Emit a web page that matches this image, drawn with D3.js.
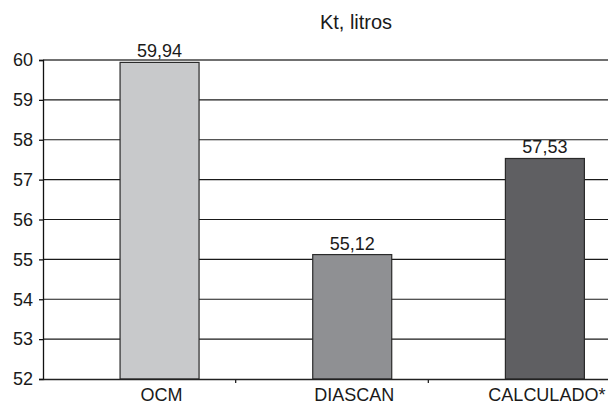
<!DOCTYPE html>
<html>
<head>
<meta charset="utf-8">
<script src="https://cdn.jsdelivr.net/npm/d3@7/dist/d3.min.js"></script>
<style>
  html, body { margin: 0; padding: 0; background: #fff; }
  svg { display: block; font-family: "Liberation Sans", Arial, sans-serif; }
</style>
</head>
<body>
<svg id="chart" width="608" height="405"></svg>
<script>
const title = "Kt, litros";
const categories = ["OCM", "DIASCAN", "CALCULADO*"];
const values = [59.94, 55.12, 57.53];
const valueLabels = ["59,94", "55,12", "57,53"];
const colors = ["#c8c9cb", "#8f9093", "#5f5f62"];
const yTicks = [52, 53, 54, 55, 56, 57, 58, 59, 60];

(function () {
const svg = d3.select("#chart");
const mLeft = 43, mRight = 621, mTop = 60, mBottom = 379;

const y = d3.scaleLinear().domain([52, 60]).range([mBottom, mTop]);
const x = d3.scaleBand().domain(categories).range([mLeft, mRight]);

// gridlines
svg.append("g").selectAll("line").data(yTicks.filter(d => d > 52)).join("line")
  .attr("x1", mLeft).attr("x2", 608)
  .attr("y1", d => y(d)).attr("y2", d => y(d))
  .attr("stroke", d => d === 60 ? "#707070" : "#1a1a1a")
  .attr("stroke-width", d => d === 60 ? 2 : 1.2);

// bars
const barOffset = x.step() * 0.40, barW = x.step() * 0.41;
svg.append("g").selectAll("rect").data(categories).join("rect")
  .attr("x", d => x(d) + barOffset)
  .attr("width", barW)
  .attr("y", (d, i) => y(values[i]))
  .attr("height", (d, i) => y(52) - y(values[i]))
  .attr("fill", (d, i) => colors[i])
  .attr("stroke", "#2a2a2a").attr("stroke-width", 1.2);

// value labels
svg.append("g").selectAll("text").data(categories).join("text")
  .attr("x", d => x(d) + barOffset + barW / 2)
  .attr("y", (d, i) => y(values[i]) - 5)
  .attr("text-anchor", "middle")
  .attr("font-size", 18).attr("fill", "#1a1a1a")
  .text((d, i) => valueLabels[i]);

// y axis
const yAxis = d3.axisLeft(y).tickValues(yTicks).tickSize(4).tickPadding(6).tickFormat(d3.format("d"));
const gy = svg.append("g").attr("transform", `translate(${mLeft},0)`).call(yAxis);
gy.select(".domain").attr("stroke", "#111").attr("stroke-width", 1.3);
gy.selectAll(".tick line").attr("stroke", "#111").attr("stroke-width", 1.3);
gy.selectAll(".tick text").attr("font-size", 18).attr("fill", "#1a1a1a")
  .attr("font-family", "Liberation Sans, Arial, sans-serif");

// x axis
const xAxis = d3.axisBottom(x).tickSize(0).tickFormat("");
const gx = svg.append("g").attr("transform", `translate(0,${mBottom})`).call(xAxis);
gx.select(".domain").attr("stroke", "#222").attr("stroke-width", 1.6);
gx.selectAll(".tick").remove();
// category boundary ticks
svg.append("g").selectAll("line").data(categories.slice(1)).join("line")
  .attr("x1", d => x(d)).attr("x2", d => x(d))
  .attr("y1", mBottom).attr("y2", mBottom + 4)
  .attr("stroke", "#222").attr("stroke-width", 1.3);

// category labels
svg.append("g").selectAll("text").data(categories).join("text")
  .attr("x", d => x(d) + barOffset + barW / 2 + 2)
  .attr("y", 401)
  .attr("text-anchor", "middle")
  .attr("font-size", 18).attr("fill", "#1a1a1a")
  .text(d => d);

// title
svg.append("text")
  .attr("x", 356).attr("y", 29)
  .attr("text-anchor", "middle")
  .attr("font-size", 20).attr("fill", "#1a1a1a")
  .text(title);
})();
</script>
</body>
</html>
